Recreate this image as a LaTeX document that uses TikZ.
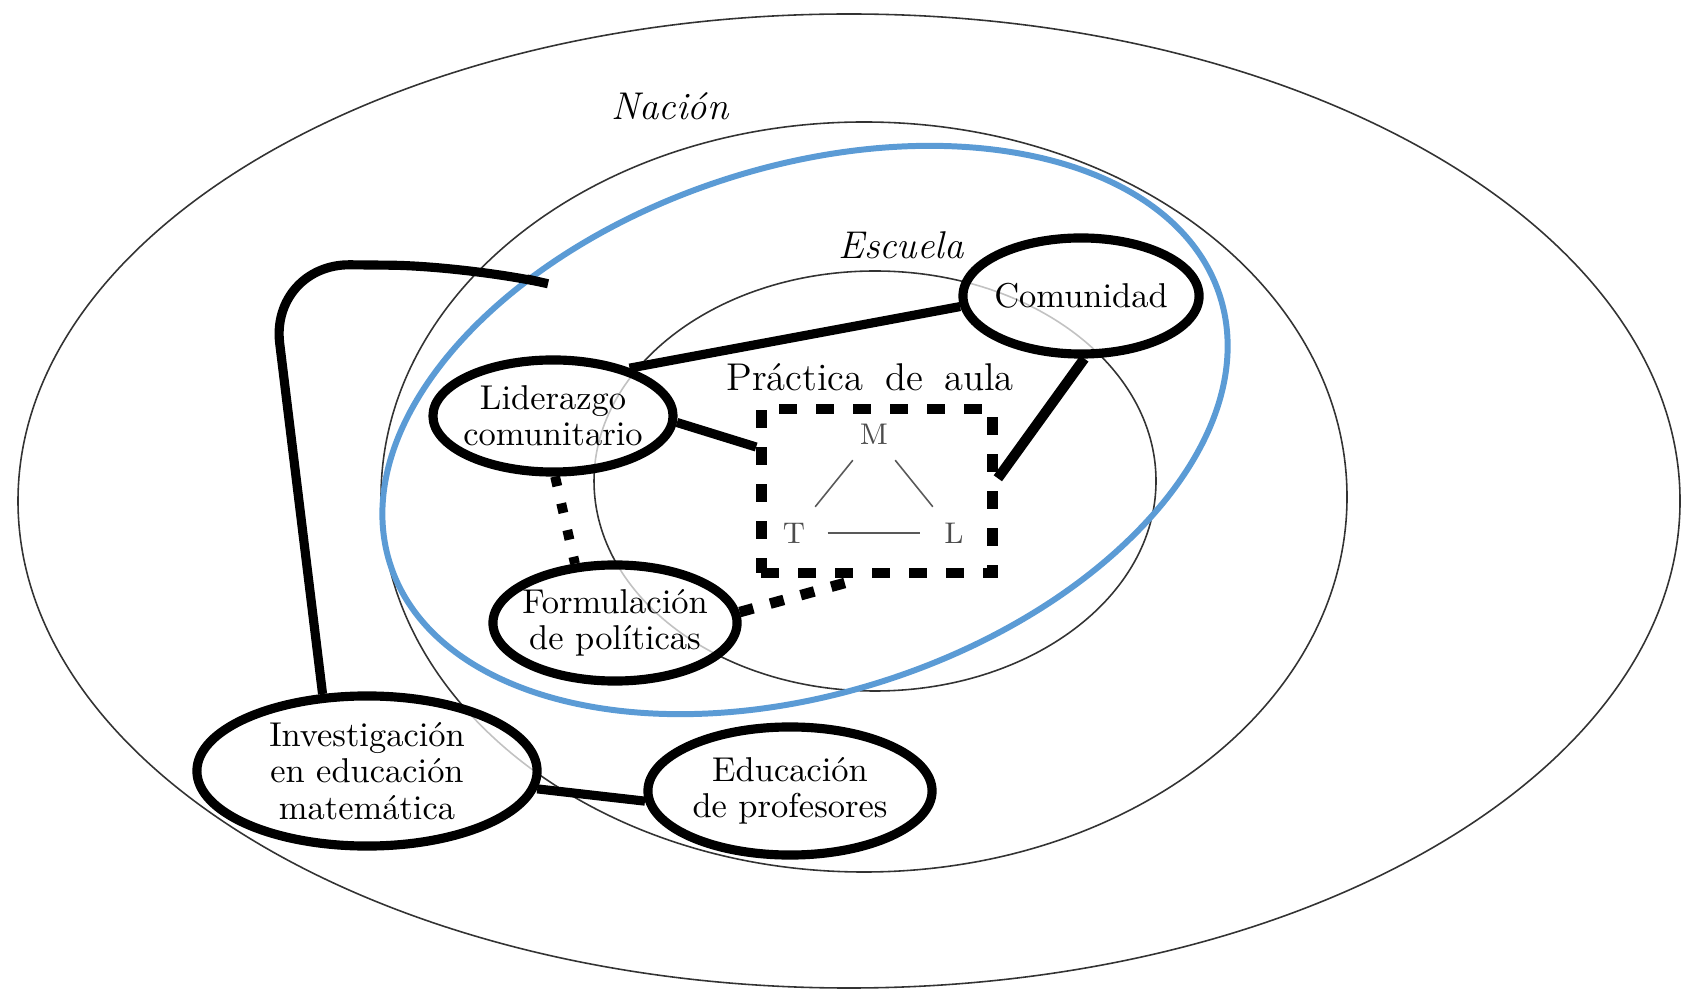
\documentclass[tikz,border=0pt]{standalone}
\usepackage{tikz}
\usetikzlibrary{shapes.geometric}
\pgfdeclarelayer{bg}
\pgfsetlayers{bg,main}
\definecolor{azulclaro}{RGB}{91,155,213}
\tikzset{
    ambito/.style={draw=black!80, line width=.45pt},
    campo/.style={ellipse, draw, line width=2.6pt, fill=white, fill opacity=.7, text opacity=1, inner sep=-3pt, align=center, font=\fontsize{9.8}{10.3}\selectfont},
    conn/.style={line width=2.6pt},
    letra/.style={circle, minimum size=.66cm, inner sep=0pt, text=black!70, font=\fontsize{8.5}{10}\selectfont},
    lado/.style={draw=black!65, line width=.45pt}
}

\begin{document}
\begin{tikzpicture}[x=0.01cm, y=-0.01cm]
        \useasboundingbox (0,0) rectangle (1683,992);
        \begin{pgfonlayer}{bg}
                \draw[ambito] (849,501) ellipse [x radius=831, y radius=487];
                \draw[ambito] (864,497) ellipse [x radius=483, y radius=375];
                \draw[ambito] (875,481) ellipse [x radius=281, y radius=210];
                \draw[azulclaro, line width=1.7pt, rotate around={18:(805,430)}] (805,430) ellipse [x radius=436, y radius=263];
        \end{pgfonlayer}
        \node (nacion) [font=\itshape\fontsize{11}{13}\selectfont] at (670,106) {Nación};
        \node (escuela) [font=\itshape\fontsize{11}{13}\selectfont] at (901,245) {Escuela};
        \node (practica) [font=\fontsize{11}{13}\selectfont] at (870,377) {Práctica\hspace{.55em}de\hspace{.55em}aula};
        \node (com) [campo, minimum width=2.36cm, minimum height=1.16cm] at (1081,296) {Comunidad};
        \node (lid) [campo, minimum width=2.40cm, minimum height=1.12cm] at (553,416) {Liderazgo\\comunitario};
        \node (form) [campo, minimum width=2.44cm, minimum height=1.16cm] at (615,623) {Formulación\\de políticas};
        \node (inv) [campo, minimum width=3.40cm, minimum height=1.50cm] at (367,771) {Investigación\\en educación\\matemática};
        \node (edu) [campo, minimum width=2.84cm, minimum height=1.28cm] at (790,791) {Educación\\de profesores};
        \node (aula) [draw, line width=3pt, dash pattern=on 5pt off 5.5pt, minimum width=2.31cm, minimum height=1.64cm, inner sep=0pt] at (877,491) {};
        \node (m) [letra] at (874,434) {M};
        \node (t) [letra] at (794,533) {T};
        \node (l) [letra] at (954,533) {L};
        \coordinate (azul) at (527,279);
        \draw (m) edge [lado] (t);
        \draw (m) edge [lado] (l);
        \draw (t) edge [lado] (l);
        \draw (lid.32) edge [conn] (com.185);
        \draw (lid.-3) edge [conn] (aula.160);
        \draw (com.-87) edge [conn, line width=2.9pt] (aula.6);
        \draw (lid.-88) edge [conn, line width=2.8pt, dash pattern=on 2.8pt off 5pt] (form.124);
        \draw (form.5) edge [conn, line width=3pt, dash pattern=on 4pt off 5pt] (aula.-100);
        \draw (inv.-6) edge [conn] (edu.184);
        \draw[conn, rounded corners=.8cm] (inv.120) -- (270,264) -- (470,266) -- (azul);
\end{tikzpicture}
\end{document}
